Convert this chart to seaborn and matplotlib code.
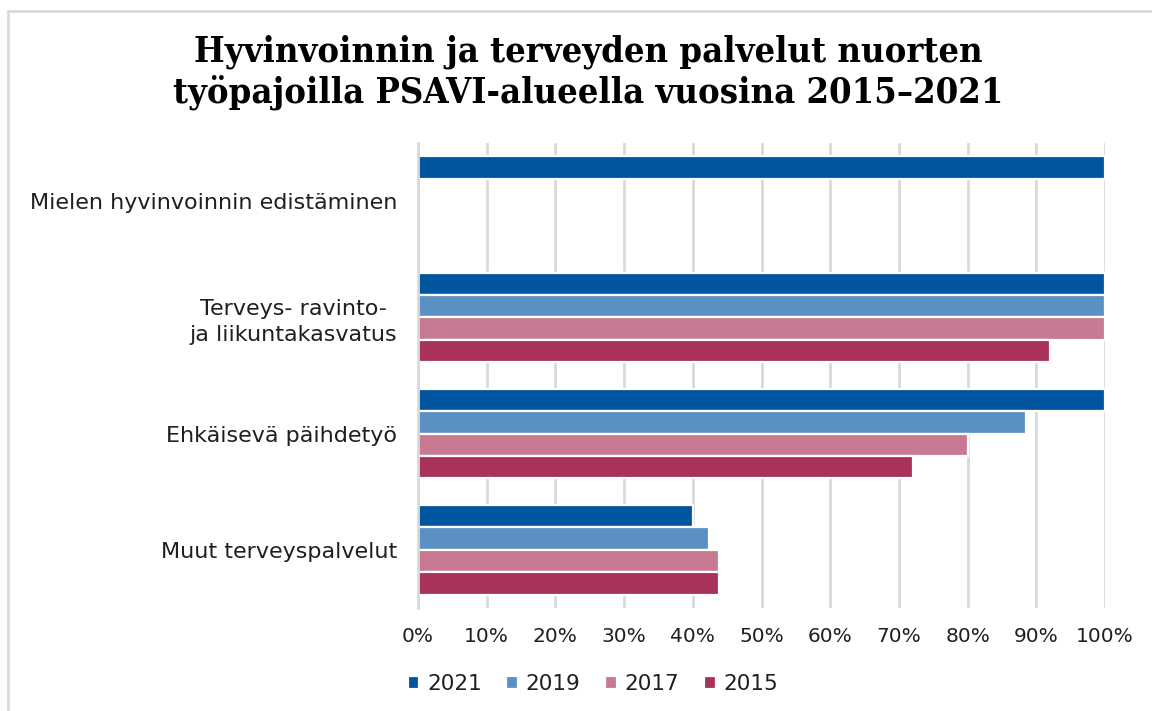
import matplotlib
matplotlib.use("Agg")
import matplotlib.pyplot as plt
from matplotlib.patches import Rectangle
import numpy as np
import pandas as pd
import seaborn as sns

# Share of youth workshops offering each service, by survey year (%)
categories = [
    "Mielen hyvinvoinnin edistäminen",
    "Terveys- ravinto-\nja liikuntakasvatus",
    "Ehkäisevä päihdetyö",
    "Muut terveyspalvelut",
]
years = ["2021", "2019", "2017", "2015"]
values_2021 = [100, 100, 100, 40]
values_2019 = [np.nan, 100, 88.5, 42.3]
values_2017 = [np.nan, 100, 80, 43.8]
values_2015 = [np.nan, 92, 72, 43.8]
colors = ["#00559E", "#5B90C4", "#C87A93", "#A8325A"]
x_ticks = [0, 10, 20, 30, 40, 50, 60, 70, 80, 90, 100]
title = ("Hyvinvoinnin ja terveyden palvelut nuorten\n"
         "työpajoilla PSAVI-alueella vuosina 2015–2021")

series = dict(zip(years, [values_2021, values_2019, values_2017, values_2015]))
df = pd.DataFrame(
    [(cat, yr, vals[i]) for yr, vals in series.items() for i, cat in enumerate(categories)],
    columns=["Palvelu", "Vuosi", "Osuus"],
).dropna()

sns.set_theme(style="white")
plt.rcParams["font.family"] = ["DejaVu Sans"]

fig = plt.figure(figsize=(11.52, 7.11), dpi=100)
ax = fig.add_axes([418 / 1152, 1 - 608 / 711, (1105 - 418) / 1152, (608 - 143) / 711])

sns.barplot(
    data=df, x="Osuus", y="Palvelu", hue="Vuosi",
    order=categories, hue_order=years, palette=colors,
    orient="h", width=0.77, edgecolor="white", linewidth=1.6,
    saturation=1, ax=ax, legend=True, errorbar=None,
)

ax.set_xlim(0, 100)
ax.set_xticks(x_ticks)
ax.set_xticklabels([f"{t}%" for t in x_ticks])
ax.xaxis.grid(True, color="#D9D9D9", linewidth=2)
ax.set_axisbelow(True)
for side in ["top", "right", "bottom"]:
    ax.spines[side].set_visible(False)
ax.spines["left"].set_color("#D9D9D9")
ax.spines["left"].set_linewidth(2)
ax.set_xlabel("")
ax.set_ylabel("")
ax.tick_params(axis="both", length=0, labelcolor="#1f1f1f")
ax.tick_params(axis="x", pad=14, labelsize=14.5)
ax.tick_params(axis="y", pad=15, labelsize=16)
for lbl in ax.get_yticklabels():
    lbl.set_multialignment("center")
    lbl.set_linespacing(1.35)

handles, labels = ax.get_legend_handles_labels()
ax.get_legend().remove()
fig.legend(
    handles, labels, loc="center", bbox_to_anchor=(593 / 1152, 1 - 684 / 711),
    ncol=4, frameon=False, fontsize=15.5, handlelength=0.55, handleheight=0.55,
    handletextpad=0.35, columnspacing=1.15, labelcolor="#1f1f1f",
)

fig.text(588 / 1152, 1 - 72 / 711, title, ha="center", va="center",
         fontsize=26, fontweight="bold", family="DejaVu Serif",
         fontstretch="condensed", color="#000000", linespacing=1.2)

# light frame around the chart area
fig.add_artist(Rectangle((7.5 / 1152, -0.1), 1.2, 1.1 - 11 / 711,
                         transform=fig.transFigure, fill=False,
                         edgecolor="#D9D9D9", linewidth=2))

fig.savefig("out.png", dpi=100, facecolor="white")
